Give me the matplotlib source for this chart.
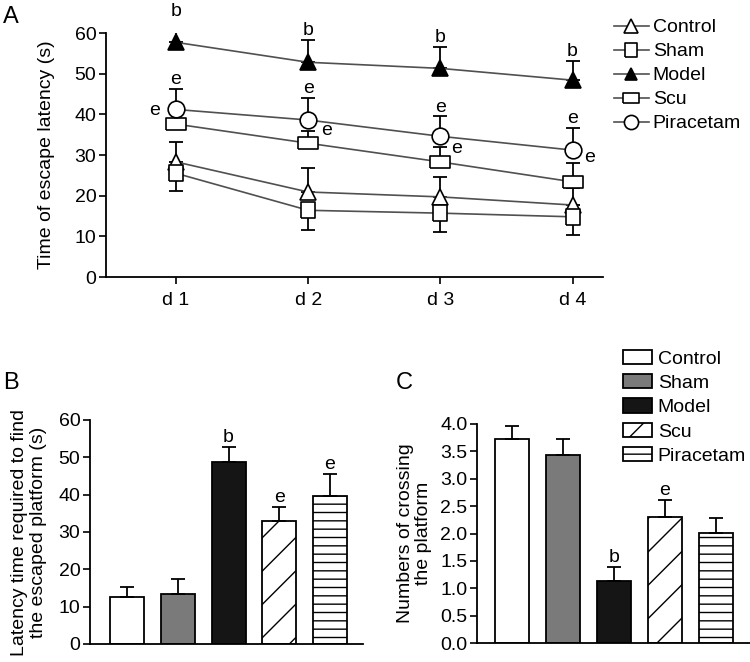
import numpy as np
import matplotlib
matplotlib.use("Agg")
import matplotlib.pyplot as plt

plt.rcParams["font.family"] = ["Liberation Sans", "DejaVu Sans"]
plt.rcParams["hatch.linewidth"] = 1.0

# ---------------- data ----------------
groups = ["Control", "Sham", "Model", "Scu", "Piracetam"]
days = ["d 1", "d 2", "d 3", "d 4"]

# panel A: escape latency (s), mean and one-sided SD
lat_control = [28.3, 20.9, 19.7, 17.7]
lat_sham = [25.5, 16.4, 15.7, 14.8]
lat_model = [57.7, 52.8, 51.3, 48.4]
lat_scu = [37.6, 32.9, 28.3, 23.4]
lat_pira = [41.2, 38.6, 34.6, 31.2]

err_control = [4.9, 5.9, 4.9, 4.1]
err_sham = [4.3, 4.9, 4.7, 4.5]
err_model = [5.3, 5.4, 5.2, 4.6]
err_scu = [4.0, 3.0, 3.7, 4.6]
err_pira = [5.1, 5.4, 4.9, 5.4]

# panel B: latency to find escaped platform (s)
plat_lat = [12.6, 13.4, 48.8, 33.0, 39.7]
plat_lat_err = [2.7, 4.0, 4.0, 3.7, 5.8]

# panel C: number of platform crossings
crossings = [3.72, 3.43, 1.14, 2.31, 2.01]
crossings_err = [0.25, 0.29, 0.25, 0.30, 0.27]

bar_colors = ["white", "#7a7a7a", "#151515", "white", "white"]
bar_hatch = [None, None, None, "/", "--"]

line_col = "#505050"
FS = 14

W, H = 750, 662
fig = plt.figure(figsize=(W / 100, H / 100), dpi=100)


def px_axes(left, top, right, bottom):
    return fig.add_axes([left / W, 1 - bottom / H, (right - left) / W, (bottom - top) / H])


def style(ax):
    for s in ["top", "right"]:
        ax.spines[s].set_visible(False)
    for s in ["left", "bottom"]:
        ax.spines[s].set_linewidth(1.3)
    ax.tick_params(direction="out", length=5, width=1.2, labelsize=FS, pad=2)


# ---------------- panel A ----------------
axA = px_axes(106, 33, 603, 277)
style(axA)
x = np.arange(1, 5)

rect = [(-1.0, -0.6), (1.0, -0.6), (1.0, 0.6), (-1.0, 0.6), (-1.0, -0.6)]
tall = [(-0.8, -1.0), (0.8, -1.0), (0.8, 1.0), (-0.8, 1.0), (-0.8, -1.0)]

series = [
    ("Control", lat_control, err_control, "^", 12, "white", "up"),
    ("Sham", lat_sham, err_sham, tall, 12, "white", "down"),
    ("Model", lat_model, err_model, "^", 11, "black", "up"),
    ("Scu", lat_scu, err_scu, rect, 14, "white", "up"),
    ("Piracetam", lat_pira, err_pira, "o", 12, "white", "up"),
]

handles = []
for name, m, e, mk, ms, fc, d in series:
    m = np.array(m)
    e = np.array(e)
    yerr = [np.zeros(4), e] if d == "up" else [e, np.zeros(4)]
    axA.errorbar(x, m, yerr=yerr, fmt="none", ecolor="black", elinewidth=1.3,
                 capsize=5, capthick=1.3, zorder=2)
    h, = axA.plot(x, m, color=line_col, lw=1.2, marker=mk, ms=ms, mfc=fc,
                  mec="black", mew=1.2, zorder=3, label=name)
    handles.append(h)

for xi, m, e in zip(x, lat_model, err_model):
    axA.text(xi, m + e + 0.3, "b", ha="center", va="bottom", fontsize=FS)
for xi, m, e in zip(x, lat_pira, err_pira):
    axA.text(xi, m + e + 0.2, "e", ha="center", va="bottom", fontsize=FS)

side_e_x = [0.88, 2.10, 3.08, 4.09]
side_e_y = [41.0, 36.0, 31.5, 29.5]
side_e_ha = ["right", "left", "left", "left"]
for xs, ys, ha in zip(side_e_x, side_e_y, side_e_ha):
    axA.text(xs, ys, "e", ha=ha, va="center", fontsize=FS)

axA.set_xlim(0.47, 4.23)
axA.set_ylim(0, 60)
axA.set_yticks(range(0, 61, 10))
axA.set_xticks(x)
axA.set_xticklabels(days)
axA.tick_params(axis="x", pad=6)
axA.set_ylabel("Time of escape latency (s)", fontsize=FS)
axA.yaxis.set_label_coords(-0.103, 0.5)

fig.legend(handles=handles, loc="upper left", bbox_to_anchor=(606 / W, 1 - 11 / H),
           frameon=False, fontsize=FS, handlelength=1.8, handletextpad=0.2,
           labelspacing=0.33, borderaxespad=0, markerscale=0.85)

# ---------------- panel B ----------------
axB = px_axes(90, 420, 363, 644)
style(axB)
xb = np.arange(5)
barsB = axB.bar(xb, plat_lat, width=0.67, color=bar_colors, edgecolor="black", linewidth=1.3)
for b, hz in zip(barsB, bar_hatch):
    if hz:
        b.set_hatch(hz)
axB.errorbar(xb, plat_lat, yerr=[np.zeros(5), plat_lat_err], fmt="none", ecolor="black",
             elinewidth=1.3, capsize=5, capthick=1.3)
for i, lab in zip([2, 3, 4], ["b", "e", "e"]):
    axB.text(i, plat_lat[i] + plat_lat_err[i] + 0.3, lab, ha="center",
             va="bottom", fontsize=FS)
axB.set_xlim(-0.73, 4.65)
axB.set_ylim(0, 60)
axB.set_yticks(range(0, 61, 10))
axB.set_xticks([])
axB.set_ylabel("Latency time required to find\nthe escaped platform (s)", fontsize=FS,
               linespacing=1.15)
axB.yaxis.set_label_coords(-0.157, 0.5)

# ---------------- panel C ----------------
axC = px_axes(477, 424, 750, 643)
style(axC)
barsC = axC.bar(xb, crossings, width=0.67, color=bar_colors, edgecolor="black", linewidth=1.3)
for b, hz in zip(barsC, bar_hatch):
    if hz:
        b.set_hatch(hz)
axC.errorbar(xb, crossings, yerr=[np.zeros(5), crossings_err], fmt="none", ecolor="black",
             elinewidth=1.3, capsize=5, capthick=1.3)
axC.text(2, crossings[2] + crossings_err[2] + 0.02, "b", ha="center", va="bottom", fontsize=FS)
axC.text(3, crossings[3] + crossings_err[3] + 0.02, "e", ha="center", va="bottom", fontsize=FS)
axC.set_xlim(-0.69, 4.67)
axC.set_ylim(0, 4.0)
cticks = np.arange(0, 4.01, 0.5)
axC.set_yticks(cticks)
axC.set_yticklabels([f"{v:.1f}" for v in cticks])
axC.set_xticks([])
axC.set_ylabel("Numbers of crossing\nthe platform", fontsize=FS, linespacing=1.05)
axC.yaxis.set_label_coords(-0.165, 0.5)

fig.legend(handles=list(barsC), labels=groups, loc="upper left",
           bbox_to_anchor=(615 / W, 1 - 342 / H), frameon=False, fontsize=FS,
           handlelength=1.5, handleheight=0.75, handletextpad=0.3, labelspacing=0.33,
           borderaxespad=0)

# panel letters
fig.text(3 / W, 1 - 17 / H, "A", fontsize=17, va="center", ha="left")
fig.text(3 / W, 1 - 383 / H, "B", fontsize=17, va="center", ha="left")
fig.text(396 / W, 1 - 383 / H, "C", fontsize=17, va="center", ha="left")

fig.savefig("out.png", dpi=100)
